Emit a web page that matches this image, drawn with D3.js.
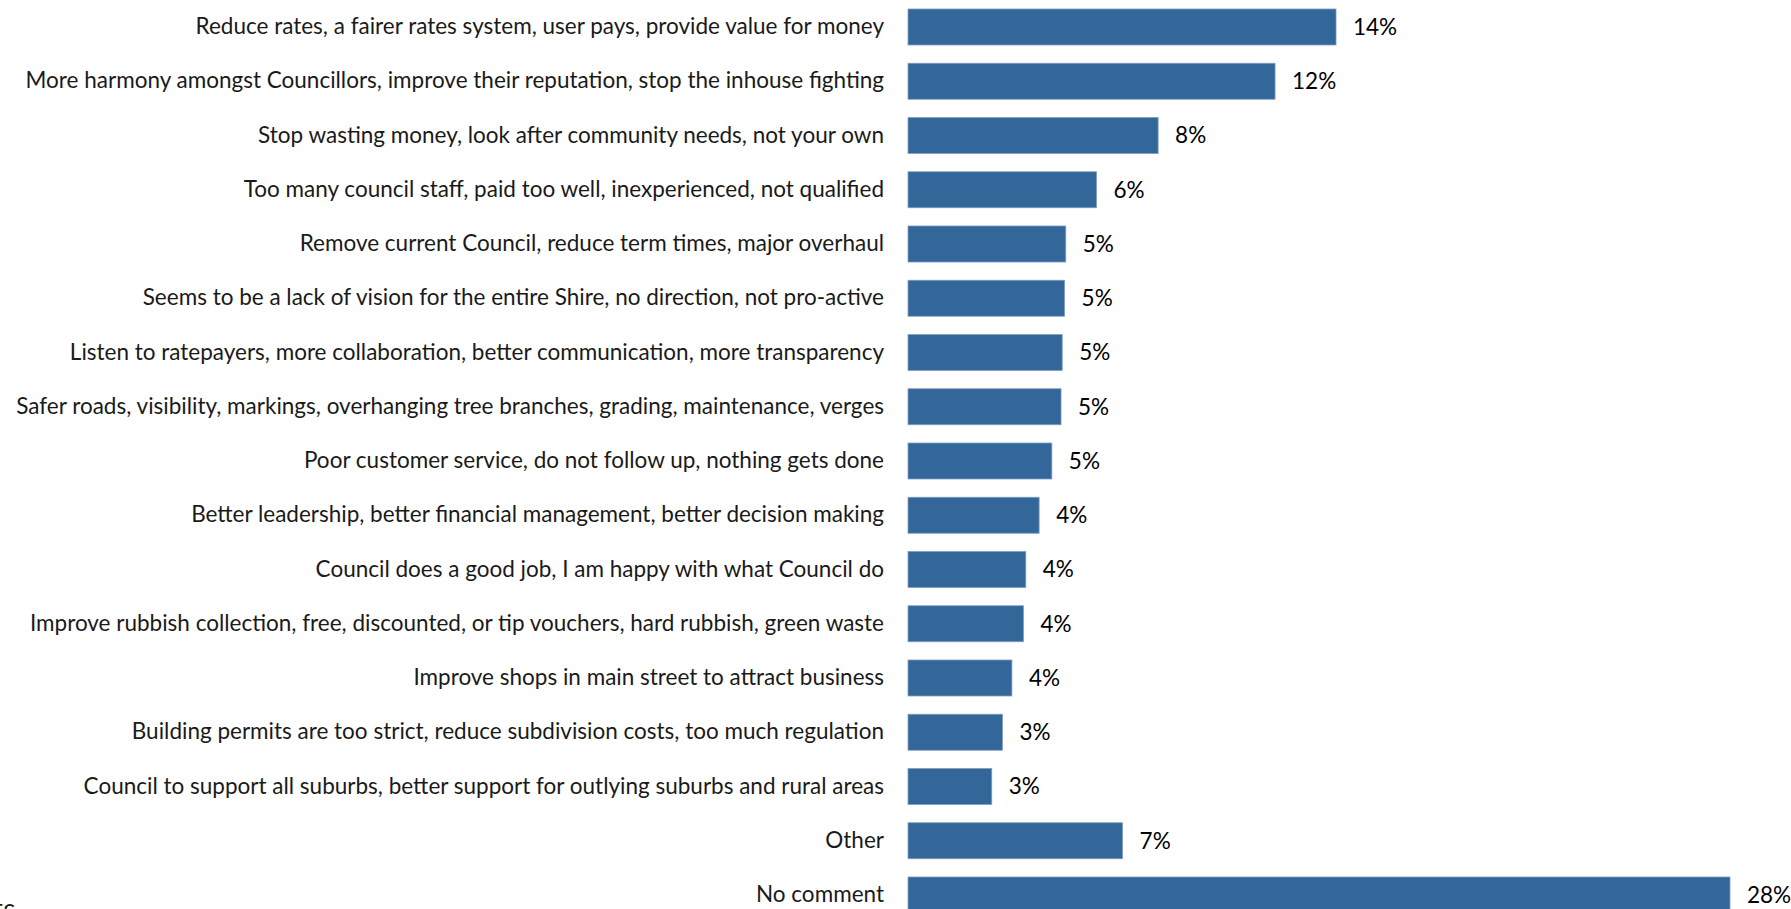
<!DOCTYPE html>
<html>
<head>
<meta charset="utf-8">
<script src="https://cdn.jsdelivr.net/npm/d3@7"></script>
<style>
  html, body { margin: 0; padding: 0; background: #ffffff; overflow: hidden; }
  svg { display: block; }
</style>
</head>
<body>
<svg id="chart" width="1791" height="909"></svg>
<script>
const categories = [
  "Reduce rates, a fairer rates system, user pays, provide value for money",
  "More harmony amongst Councillors, improve their reputation, stop the inhouse fighting",
  "Stop wasting money, look after community needs, not your own",
  "Too many council staff, paid too well, inexperienced, not qualified",
  "Remove current Council, reduce term times, major overhaul",
  "Seems to be a lack of vision for the entire Shire, no direction, not pro-active",
  "Listen to ratepayers, more collaboration, better communication, more transparency",
  "Safer roads, visibility, markings, overhanging tree branches, grading, maintenance, verges",
  "Poor customer service, do not follow up, nothing gets done",
  "Better leadership, better financial management, better decision making",
  "Council does a good job, I am happy with what Council do",
  "Improve rubbish collection, free, discounted, or tip vouchers, hard rubbish, green waste",
  "Improve shops in main street to attract business",
  "Building permits are too strict, reduce subdivision costs, too much regulation",
  "Council to support all suburbs, better support for outlying suburbs and rural areas",
  "Other",
  "No comment"
];
const values = [14.46, 12.40, 8.45, 6.37, 5.33, 5.29, 5.21, 5.17, 4.86, 4.43, 3.98, 3.90, 3.51, 3.19, 2.83, 7.25, 27.77];
const valueLabels = ["14%", "12%", "8%", "6%", "5%", "5%", "5%", "5%", "5%", "4%", "4%", "4%", "4%", "3%", "3%", "7%", "28%"];
const xDomain = [0, 30];
const footnote = "NOTES:";

const svg = d3.select("#chart");
const FONT = "Lato, 'Open Sans', sans-serif";
const FS = 22.5;

const x = d3.scaleLinear().domain(xDomain).range([908, 1796]);
const y = d3.scaleBand().domain(categories).range([-0.11, 922.1]).paddingInner(0.3364).paddingOuter(0.168);

const barColor = "#336699";

svg.append("g").selectAll("rect")
  .data(values)
  .join("rect")
  .attr("x", x(0))
  .attr("y", (d, i) => y(categories[i]))
  .attr("width", d => x(d) - x(0))
  .attr("height", y.bandwidth())
  .attr("fill", barColor)
  .attr("stroke", "#7f9fc4")
  .attr("stroke-width", 0.8);

const yAxis = d3.axisLeft(y).tickSize(0).tickPadding(24);
const gy = svg.append("g").attr("transform", `translate(${x(0)},0)`).call(yAxis);
gy.select(".domain").remove();
gy.selectAll("text")
  .attr("font-family", FONT)
  .attr("font-size", FS)
  .attr("fill", "#1a1a1a");

svg.append("g").selectAll("text")
  .data(values)
  .join("text")
  .attr("x", d => x(d) + 17)
  .attr("y", (d, i) => y(categories[i]) + y.bandwidth() / 2)
  .attr("dy", "0.35em")
  .attr("font-family", FONT)
  .attr("font-size", FS)
  .attr("fill", "#000")
  .text((d, i) => valueLabels[i]);

svg.append("text")
  .attr("x", 21)
  .attr("y", 921)
  .attr("text-anchor", "end")
  .attr("font-family", FONT)
  .attr("font-size", FS)
  .attr("fill", "#1a1a1a")
  .text(footnote);
</script>
</body>
</html>
